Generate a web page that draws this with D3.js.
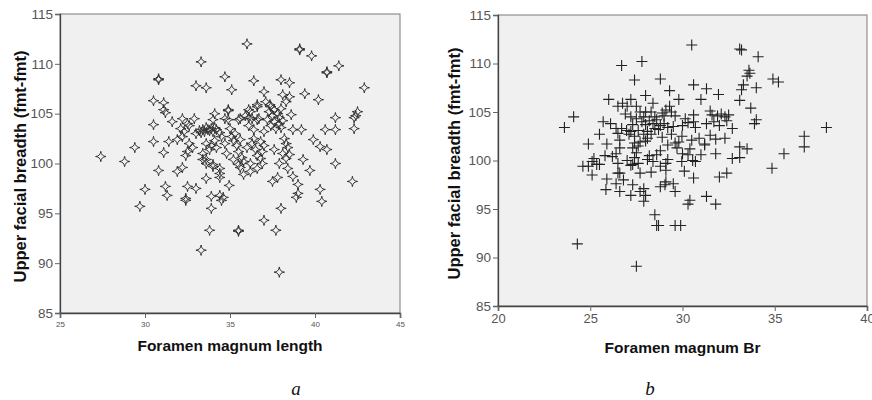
<!DOCTYPE html>
<html>
<head>
<meta charset="utf-8">
<script src="https://cdn.jsdelivr.net/npm/d3@7"></script>
<style>
  html, body { margin: 0; padding: 0; background: #fff; }
  svg { display: block; }
</style>
</head>
<body>
<svg id="chart" width="872" height="400"></svg>
<script>
// Panel a: foramen magnum length vs upper facial breadth
const fmLength = [27.4,28.8,29.4,29.7,30.0,30.5,30.8,30.8,31.1,31.1,31.2,31.6,30.5,30.5,31.1,31.4,30.8,31.9,32.2,31.2,
  31.3,32.4,32.5,33.0,32.2,32.1,32.3,32.5,32.6,32.2,31.9,32.6,32.8,32.5,32.4,33.3,33.0,33.6,34.7,35.1,
  36.0,36.4,37.0,38.0,38.5,39.1,39.1,39.8,40.7,40.7,41.4,42.9,39.4,40.2,38.1,38.5,38.3,37.1,37.35,34.9,
  35.5,36.2,36.6,36.7,34.7,34.1,34.0,34.9,33.2,33.4,33.5,33.7,33.8,33.9,34.0,34.2,34.4,33.6,34.1,33.3,
  33.6,33.9,34.1,34.5,33.4,33.8,34.2,33.4,33.6,34.0,34.4,33.6,34.4,34.95,33.9,34.4,34.6,33.9,33.8,35.5,
  35.5,33.3,37.0,37.7,38.0,37.9,34.0,34.4,33.6,35.2,35.4,35.6,35.5,35.7,35.5,35.8,35.6,35.8,36.0,36.3,
  36.5,36.6,36.6,36.9,36.8,36.9,36.4,35.1,35.0,35.3,35.6,36.1,36.3,36.6,36.1,36.4,36.6,36.1,37.4,37.6,
  37.8,37.5,37.9,37.6,37.9,38.0,37.7,37.4,37.2,38.1,37.3,38.0,38.7,39.2,39.9,40.3,40.7,41.2,40.6,41.2,
  42.3,42.4,42.5,42.3,39.3,37.6,38.3,38.1,38.5,38.2,38.4,37.9,38.3,38.4,38.7,39.0,39.0,38.9,37.5,37.8,
  39.7,40.3,40.4,41.2,42.2,34.5,32.4,36.8,37.0,36.2,35.2,34.7,34.8,32.9,33.0,34.9,35.9,37.0,38.6,36.2];
const breadthA = [100.7,100.2,101.6,95.7,97.4,106.3,108.4,108.5,106.1,105.4,105.1,104.2,103.9,102.2,101.1,102.2,99.3,99.2,99.6,97.7,
  96.8,96.5,97.7,97.5,104.5,103.5,103.2,104.0,103.8,102.7,102.4,102.0,101.6,101.2,100.8,110.2,107.8,107.6,108.7,107.4,
  112.0,108.3,107.2,108.4,108.1,111.4,111.5,110.8,109.2,109.1,109.8,107.6,107.0,106.4,106.9,106.7,106.2,106.2,105.9,105.4,
  104.4,105.2,105.7,104.5,104.5,105.0,104.4,104.4,103.3,103.4,103.2,103.4,103.3,103.5,103.2,103.4,103.1,103.6,103.6,103.1,
  102.0,101.8,102.3,102.7,101.0,101.4,101.6,100.4,100.0,99.7,99.0,98.5,98.6,97.8,96.7,96.8,96.6,95.5,93.3,93.3,
  93.2,91.3,94.3,93.3,95.5,89.1,99.9,99.5,100.4,102.3,101.8,102.4,101.2,100.6,99.9,100.2,99.6,98.9,101.6,102.0,
  101.4,100.8,99.5,100.0,100.5,101.2,102.5,102.7,103.5,103.0,104.5,104.6,104.5,104.4,103.8,103.4,105.9,105.4,105.7,105.4,
  105.0,104.8,104.6,104.2,104.0,103.6,103.5,103.8,104.4,104.3,105.2,105.5,103.4,103.4,102.4,101.7,101.4,104.6,103.4,103.4,
  104.6,104.8,105.2,103.5,100.4,101.4,102.0,101.0,100.9,102.5,101.6,100.0,100.5,99.5,98.7,97.9,97.0,96.6,98.2,98.6,
  99.3,97.4,96.2,100.0,98.2,96.3,96.3,102.2,101.8,100.0,100.4,102.0,101.0,104.5,103.0,105.3,104.8,103.2,104.9,99.2];

// Panel b: foramen magnum breadth vs upper facial breadth
const fmBreadth = [23.6,24.1,24.9,25.5,25.9,25.7,24.9,25.1,25.5,25.1,24.6,25.35,25.2,26.0,26.5,26.75,27.0,27.2,26.7,27.8,
  27.4,28.8,29.3,29.8,30.5,30.6,31.3,31.95,31.0,28.0,28.4,27.7,28.0,33.1,33.2,34.1,33.6,33.65,33.5,33.3,
  33.2,33.1,34.0,34.9,35.2,33.7,34.0,33.9,37.8,36.6,36.6,35.5,34.85,33.1,33.5,33.1,32.0,32.4,31.8,30.55,
  30.7,30.6,31.2,31.8,31.6,31.9,32.1,32.3,32.4,32.7,31.7,32.0,32.5,31.5,30.15,30.6,30.6,30.7,29.97,30.5,
  30.9,31.2,30.0,30.3,29.1,29.4,29.6,29.3,29.0,27.5,27.8,28.0,28.2,28.4,28.6,28.8,29.0,29.2,28.5,28.7,
  27.6,27.9,28.1,27.4,27.7,28.3,28.9,29.5,29.6,29.7,28.5,26.4,26.5,26.6,26.7,26.97,27.2,27.3,27.2,26.6,
  26.4,27.4,27.3,27.5,27.4,27.6,26.5,26.5,27.3,27.2,27.6,27.7,28.1,28.3,28.2,28.4,28.8,29.1,29.2,29.96,
  26.4,26.6,26.8,26.6,25.85,27.3,27.2,27.7,27.9,28.0,27.9,28.8,29.05,29.1,29.5,29.6,28.5,28.6,28.7,29.6,
  29.9,30.3,31.8,31.3,24.3,27.5,30.4,28.0,28.8,29.2,30.0,30.3,29.4,27.1,27.9,28.3,29.1,30.1,31.0,32.7,
  31.5,25.9,26.2,27.0,28.6,29.8,30.4,32.3,31.3,28.1,27.5,26.9,26.1,28.9,25.8];
const breadthB = [103.4,104.5,101.7,102.7,101.7,104.0,99.4,99.9,99.6,98.5,99.4,99.6,100.2,106.3,105.6,105.9,105.6,106.3,109.8,110.2,
  108.3,108.4,107.2,106.3,111.9,107.8,107.4,106.8,106.3,106.7,105.9,105.0,105.0,111.5,111.4,110.7,109.3,109.0,108.7,107.8,
  107.3,106.2,107.5,108.4,108.1,105.4,104.2,103.8,103.4,102.5,101.4,100.7,99.2,101.4,101.2,100.3,98.3,98.7,100.7,100.0,
  99.9,98.2,101.7,102.2,104.7,104.6,104.8,104.5,104.1,103.3,104.0,103.6,104.7,105.1,104.3,104.7,104.0,103.4,102.5,102.1,
  102.3,101.6,100.7,100.6,105.2,105.0,104.6,105.6,104.6,104.3,104.0,103.7,104.1,103.8,104.2,103.6,103.8,103.4,103.3,103.2,
  103.1,102.7,102.3,102.5,101.9,102.7,102.4,103.5,101.8,101.3,104.5,103.3,102.8,102.1,103.3,103.1,104.5,103.7,103.0,101.3,
  100.7,101.8,101.3,100.8,100.3,101.5,99.7,98.7,99.6,99.5,99.7,98.7,100.1,98.8,100.5,99.9,99.4,99.0,100.1,99.9,
  97.6,96.8,98.0,98.7,97.0,97.5,96.4,96.8,97.1,96.4,95.8,97.3,97.5,97.8,97.6,96.8,94.4,93.3,93.3,93.3,
  93.3,95.5,95.5,96.3,91.4,89.1,95.9,102.0,101.0,101.6,103.6,103.9,102.7,102.7,104.5,105.0,99.7,98.9,100.6,100.2,
  102.6,98.1,100.4,100.0,100.6,101.9,101.2,102.3,103.8,103.0,105.6,104.8,103.8,104.9,100.5];

const yTicks = [85, 90, 95, 100, 105, 110, 115];
const xTicksA = [25, 30, 35, 40, 45];
const xTicksB = [20, 25, 30, 35, 40];
const yTitle = "Upper facial breadth (fmt-fmt)";

const svg = d3.select("#chart");

// Four-pointed star with concave sides, used for panel a
const starPath = "M0,-5.2 Q0.45,-0.45 5.2,0 Q0.45,0.45 0,5.2 Q-0.45,0.45 -5.2,0 Q-0.45,-0.45 0,-5.2Z";
// Plus sign used for panel b
const plusPath = "M-5.5,0H5.5M0,-5.5V5.5";

function panel(opts) {
  const { left, right, top, bottom, xDomain, xTicks, xs, ys, title, xTickFont, marker, markerStroke, markerWidth, titleY, yTitleX, caption, captionX } = opts;
  const x = d3.scaleLinear().domain(xDomain).range([left, right]);
  const y = d3.scaleLinear().domain([85, 115]).range([bottom, top]);
  const g = svg.append("g");

  g.append("rect")
    .attr("x", left).attr("y", top)
    .attr("width", right - left).attr("height", bottom - top)
    .attr("fill", "#f0f0f0")
    .attr("stroke", "#7a7a7a").attr("stroke-width", 1);

  // y axis
  const ya = g.append("g").attr("transform", `translate(${left},0)`)
    .call(d3.axisLeft(y).tickValues(yTicks).tickSizeOuter(0).tickSize(5).tickPadding(2));
  ya.select(".domain").attr("stroke", "#444").attr("stroke-width", 1.3);
  ya.selectAll(".tick line").attr("stroke", "#666");
  ya.selectAll(".tick text")
    .attr("fill", "#555")
    .style("font-family", "'Liberation Sans Narrow','Arial Narrow',sans-serif")
    .style("font-size", "13.5px");

  // x axis
  const xa = g.append("g").attr("transform", `translate(0,${bottom})`)
    .call(d3.axisBottom(x).tickValues(xTicks).tickSizeOuter(0).tickSize(5).tickPadding(3));
  xa.select(".domain").attr("stroke", "#444").attr("stroke-width", 1.6);
  xa.selectAll(".tick line").attr("stroke", "#666");
  xa.selectAll(".tick text")
    .attr("fill", "#555")
    .style("font-family", xTickFont.family)
    .style("font-size", xTickFont.size + "px");

  // points
  g.append("g").selectAll("path")
    .data(xs.map((v, i) => [v, ys[i]]))
    .join("path")
    .attr("transform", d => `translate(${x(d[0])},${y(d[1])})`)
    .attr("d", marker)
    .attr("fill", "none")
    .attr("stroke", markerStroke)
    .attr("stroke-width", markerWidth);

  // titles
  g.append("text")
    .attr("x", (left + right) / 2).attr("y", titleY)
    .attr("text-anchor", "middle")
    .style("font-family", "'Liberation Sans',Arial,sans-serif")
    .style("font-weight", "bold").style("font-size", "15.5px")
    .attr("fill", "#111")
    .text(title);

  g.append("text")
    .attr("transform", `translate(${yTitleX},${(top + bottom) / 2 + 3}) rotate(-90)`)
    .attr("text-anchor", "middle")
    .style("font-family", "'Liberation Sans',Arial,sans-serif")
    .style("font-weight", "bold").style("font-size", "16.5px")
    .attr("fill", "#111")
    .text(yTitle);

  g.append("text")
    .attr("x", captionX).attr("y", 395)
    .attr("text-anchor", "middle")
    .style("font-family", "'Liberation Serif','Times New Roman',serif")
    .style("font-style", "italic").style("font-size", "19px")
    .attr("fill", "#111")
    .text(caption);
}

panel({
  left: 60, right: 400, top: 14, bottom: 313,
  xDomain: [25, 45], xTicks: xTicksA, xs: fmLength, ys: breadthA,
  title: "Foramen magnum length",
  xTickFont: { family: "'Liberation Sans Narrow','Arial Narrow',sans-serif", size: 8 },
  marker: starPath, markerStroke: "#333", markerWidth: 1,
  titleY: 351, yTitleX: 26, caption: "a", captionX: 296
});

panel({
  left: 498, right: 867, top: 15, bottom: 306,
  xDomain: [20, 40], xTicks: xTicksB, xs: fmBreadth, ys: breadthB,
  title: "Foramen magnum Br",
  xTickFont: { family: "'Liberation Sans',Arial,sans-serif", size: 13 },
  marker: plusPath, markerStroke: "#222", markerWidth: 1.1,
  titleY: 353, yTitleX: 460, caption: "b", captionX: 650
});
</script>
</body>
</html>
